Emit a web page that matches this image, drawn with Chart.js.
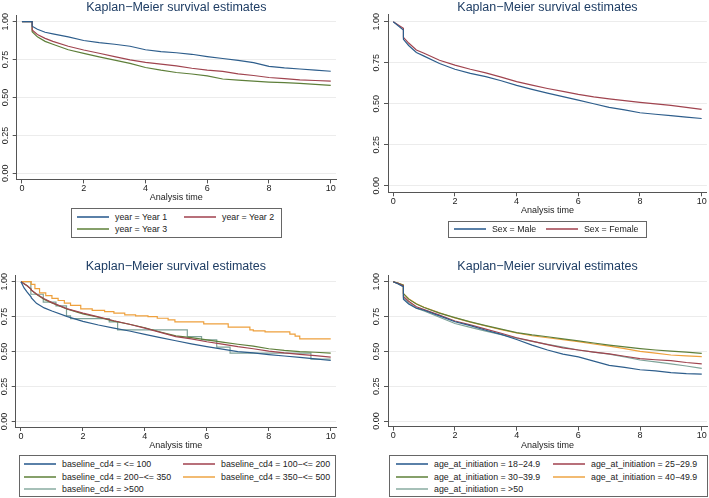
<!DOCTYPE html>
<html>
<head>
<meta charset="utf-8">
<script src="https://cdn.jsdelivr.net/npm/chart.js@4.4.1/dist/chart.umd.min.js"></script>
<style>
  body { margin: 0; background: #fff; }
  #page { position: relative; width: 709px; height: 498px; overflow: hidden; }
  canvas { position: absolute; }
  .legend { position: absolute; border: 1px solid #666; box-sizing: border-box; background: #fff;
            font: 8.8px "Liberation Sans", Arial, sans-serif; color: #222; }
  .item { position: absolute; height: 12px; white-space: nowrap; line-height: 12px; }
  .swatch { position: absolute; left: 0; top: 5px; width: 32px; height: 2px; }
  .item span.tx { position: absolute; left: 38px; top: 0; }
</style>
</head>
<body>
<div id="page">
  <canvas id="c1" width="354" height="249" style="left:0;top:0"></canvas>
  <canvas id="c2" width="354" height="249" style="left:355px;top:0"></canvas>
  <canvas id="c3" width="354" height="249" style="left:0;top:249px"></canvas>
  <canvas id="c4" width="354" height="249" style="left:355px;top:249px"></canvas>
</div>
<script>
const xTicks = [0, 2, 4, 6, 8, 10];
const yTicks = [0, 0.25, 0.5, 0.75, 1];
const lineColors = ['#2e5e8c', '#a0444f', '#5e7f3a', '#eea03c', '#7fa399'];
const swatchColors = ['#5a80a8', '#b8707a', '#86a06a', '#f2bb72', '#a6c0b8'];

// panel 1 - by year
const yearTime = [0, 0.33, 0.33, 0.5, 0.75, 1, 1.5, 2, 2.5, 3, 3.5, 4, 4.5, 5, 5.5, 6, 6.5, 7, 7.5, 8, 8.5, 9, 9.5, 10];
const yearLabels = ['year = Year 1', 'year = Year 2', 'year = Year 3'];
const year1 = [1, 1, 0.97, 0.95, 0.93, 0.92, 0.9, 0.876, 0.862, 0.851, 0.838, 0.815, 0.803, 0.795, 0.785, 0.77, 0.757, 0.745, 0.73, 0.705, 0.695, 0.688, 0.68, 0.673];
const year2 = [1, 1, 0.945, 0.915, 0.89, 0.87, 0.838, 0.813, 0.792, 0.77, 0.748, 0.732, 0.72, 0.708, 0.693, 0.681, 0.672, 0.656, 0.645, 0.632, 0.624, 0.616, 0.612, 0.608];
const year3 = [1, 1, 0.934, 0.9, 0.87, 0.851, 0.815, 0.791, 0.768, 0.747, 0.725, 0.698, 0.68, 0.665, 0.655, 0.642, 0.622, 0.615, 0.608, 0.602, 0.598, 0.593, 0.587, 0.58];

// panel 2 - by sex
const sexTime = [0, 0.33, 0.33, 0.5, 0.75, 1, 1.5, 2, 2.5, 3, 3.5, 4, 4.5, 5, 5.5, 6, 6.5, 7, 7.5, 8, 8.5, 9, 9.5, 10];
const sexLabels = ['Sex = Male', 'Sex = Female'];
const sexMale = [1, 0.949, 0.893, 0.855, 0.812, 0.79, 0.745, 0.71, 0.685, 0.665, 0.64, 0.612, 0.588, 0.565, 0.543, 0.522, 0.5, 0.478, 0.462, 0.445, 0.436, 0.427, 0.418, 0.41];
const sexFemale = [1, 0.96, 0.905, 0.87, 0.828, 0.808, 0.765, 0.735, 0.71, 0.688, 0.662, 0.635, 0.613, 0.593, 0.575, 0.557, 0.542, 0.53, 0.519, 0.508, 0.499, 0.49, 0.478, 0.465];

// panel 3 - baseline cd4
const cd4Time = [0, 0.1, 0.2, 0.33, 0.33, 0.5, 0.75, 1, 1.5, 2, 2.5, 3, 3.5, 4, 4.5, 5, 5.5, 6, 6.5, 7, 7.5, 8, 8.5, 9, 9.5, 10];
const cd4Labels = ['baseline_cd4 = <= 100', 'baseline_cd4 = 100\u2212<= 200', 'baseline_cd4 = 200\u2212<= 350',
                   'baseline_cd4 = 350\u2212<= 500', 'baseline_cd4 = >500'];
const cd4Le100 = [1, 0.955, 0.925, 0.89, 0.885, 0.845, 0.812, 0.79, 0.75, 0.716, 0.69, 0.668, 0.647, 0.623, 0.6, 0.577, 0.555, 0.535, 0.517, 0.5, 0.49, 0.478, 0.468, 0.458, 0.447, 0.436];
const cd4To200 = [1, 0.985, 0.97, 0.945, 0.94, 0.912, 0.877, 0.85, 0.805, 0.775, 0.748, 0.72, 0.695, 0.668, 0.637, 0.607, 0.59, 0.57, 0.553, 0.535, 0.52, 0.503, 0.49, 0.48, 0.47, 0.46];
const cd4To350 = [1, 0.985, 0.97, 0.945, 0.94, 0.91, 0.873, 0.848, 0.803, 0.77, 0.745, 0.718, 0.695, 0.67, 0.64, 0.612, 0.6, 0.583, 0.567, 0.552, 0.538, 0.52, 0.508, 0.5, 0.495, 0.488];
const cd4To500Time = [0, 0.33, 0.45, 0.6, 0.8, 1.0, 1.2, 1.4, 1.6, 1.93, 2.3, 2.7, 3.0, 3.35, 3.7, 4.1, 4.4, 4.75, 4.97, 5.9, 6.69, 7.39, 7.5, 7.88, 8.68, 8.85, 9.0, 10];
const cd4To500 = [1, 0.98, 0.95, 0.92, 0.9, 0.88, 0.865, 0.846, 0.83, 0.805, 0.795, 0.786, 0.775, 0.762, 0.755, 0.75, 0.738, 0.726, 0.712, 0.698, 0.675, 0.655, 0.648, 0.64, 0.625, 0.61, 0.59, 0.59];
const cd4Over500Time = [0, 0.32, 0.72, 1.13, 1.47, 1.6, 2.85, 3.12, 5.37, 5.83, 6.32, 6.75, 9.36, 10];
const cd4Over500 = [1, 0.91, 0.853, 0.826, 0.755, 0.735, 0.712, 0.655, 0.607, 0.584, 0.531, 0.489, 0.446, 0.446];

// panel 4 - age at initiation
const ageTime = [0, 0.15, 0.33, 0.33, 0.5, 0.75, 1, 1.5, 2, 2.5, 3, 3.5, 4, 4.5, 5, 5.5, 6, 6.5, 7, 7.5, 8, 8.5, 9, 9.5, 10];
const ageLabels = ['age_at_initiation = 18\u221224.9', 'age_at_initiation = 25\u221229.9', 'age_at_initiation = 30\u221239.9',
                   'age_at_initiation = 40\u221249.9', 'age_at_initiation = >50'];
const age18 = [1, 0.985, 0.965, 0.875, 0.84, 0.81, 0.795, 0.755, 0.713, 0.685, 0.652, 0.622, 0.585, 0.545, 0.51, 0.48, 0.46, 0.43, 0.4, 0.385, 0.368, 0.36, 0.347, 0.34, 0.337];
const age25 = [1, 0.988, 0.97, 0.895, 0.86, 0.82, 0.8, 0.76, 0.718, 0.69, 0.66, 0.63, 0.598, 0.573, 0.548, 0.525, 0.51, 0.495, 0.482, 0.465, 0.448, 0.44, 0.433, 0.42, 0.41];
const age30 = [1, 0.99, 0.975, 0.915, 0.875, 0.84, 0.815, 0.775, 0.742, 0.712, 0.685, 0.66, 0.635, 0.618, 0.605, 0.59, 0.575, 0.56, 0.545, 0.532, 0.52, 0.51, 0.502, 0.494, 0.486];
const age40 = [1, 0.99, 0.975, 0.915, 0.878, 0.842, 0.817, 0.776, 0.74, 0.71, 0.682, 0.656, 0.632, 0.612, 0.598, 0.584, 0.57, 0.553, 0.538, 0.52, 0.5, 0.487, 0.474, 0.468, 0.462];
const age50 = [1, 0.985, 0.965, 0.885, 0.85, 0.81, 0.79, 0.745, 0.7, 0.672, 0.645, 0.62, 0.595, 0.572, 0.55, 0.53, 0.51, 0.495, 0.48, 0.46, 0.438, 0.425, 0.41, 0.395, 0.378];

const FONT = '"Liberation Sans", Arial, sans-serif';

function pts(times, values) {
    return times.map((t, i) => ({ x: t, y: values[i] }));
}

function ds(label, times, values, color, stepped) {
    return { label, data: pts(times, values), borderColor: color, borderWidth: 1.2,
             pointRadius: 0, fill: false, stepped: !!stepped, tension: 0 };
}

// stata style y labels, rotated
const rotatedYLabels = {
    id: 'rotatedYLabels',
    afterDraw(chart) {
        const s = chart.scales.y, ctx = chart.ctx;
        ctx.save();
        ctx.font = '9px ' + FONT;
        ctx.fillStyle = '#222';
        ctx.textAlign = 'center';
        ctx.textBaseline = 'middle';
        s.ticks.forEach(t => {
            ctx.save();
            ctx.translate(chart.chartArea.left - 11.5, s.getPixelForValue(t.value));
            ctx.rotate(-Math.PI / 2);
            ctx.fillText(t.value.toFixed(2), 0, 0);
            ctx.restore();
        });
        ctx.restore();
    }
};

function makePanel(id, datasets, area) {
    const cv = document.getElementById(id);
    const W = cv.width, H = cv.height;
    return new Chart(cv.getContext('2d'), {
        type: 'line',
        data: { datasets },
        plugins: [rotatedYLabels],
        options: {
            responsive: false,
            animation: false,
            devicePixelRatio: 1,
            layout: { padding: { left: 0, top: 0, right: W - area.right, bottom: H - area.bottom - 25 } },
            plugins: {
                legend: { display: false },
                tooltip: { enabled: false },
                title: {
                    display: true, fullSize: false,
                    text: 'Kaplan\u2212Meier survival estimates',
                    color: '#1e3d64',
                    font: { family: FONT, size: 12.5, weight: 'normal', lineHeight: 1.2 },
                    padding: { top: area.titleTop, bottom: area.top - area.titleTop - 15 }
                }
            },
            scales: {
                x: {
                    type: 'linear', min: -0.17, max: 10.17,
                    afterBuildTicks: s => { s.ticks = xTicks.map(v => ({ value: v })); },
                    afterFit: s => { s.height = 25; },
                    ticks: { font: { family: FONT, size: 9 }, color: '#222', padding: 0, maxRotation: 0, autoSkip: false },
                    grid: { drawOnChartArea: false, tickColor: '#555', tickLength: 4 },
                    border: { color: '#555', width: 1 },
                    title: { display: true, text: 'Analysis time', color: '#222',
                             font: { family: FONT, size: 9 }, padding: { top: 0, bottom: 1 } }
                },
                y: {
                    type: 'linear', min: -0.04, max: 1.044,
                    afterBuildTicks: s => { s.ticks = yTicks.map(v => ({ value: v })); },
                    afterFit: s => { s.width = area.left; },
                    ticks: { display: false },
                    grid: { color: '#ececec', tickColor: '#555', tickLength: 4 },
                    border: { color: '#555', width: 1 }
                }
            }
        }
    });
}

function makeLegend(labels, box) {
    const el = document.createElement('div');
    el.className = 'legend';
    el.style.left = box.left + 'px';
    el.style.top = box.top + 'px';
    el.style.width = box.width + 'px';
    el.style.height = box.height + 'px';
    labels.forEach((lab, i) => {
        const col = i % box.cols.length, row = Math.floor(i / box.cols.length);
        const it = document.createElement('div');
        it.className = 'item';
        it.style.left = Math.round(box.cols[col]) + 'px';
        it.style.top = Math.round(box.rows[row] - 7) + 'px';
        const sw = document.createElement('div');
        sw.className = 'swatch';
        sw.style.backgroundColor = swatchColors[box.colors[i]];
        const tx = document.createElement('span');
        tx.className = 'tx';
        tx.textContent = lab;
        it.appendChild(sw);
        it.appendChild(tx);
        el.appendChild(it);
    });
    document.getElementById('page').appendChild(el);
}

makePanel('c1', [
    ds(yearLabels[0], yearTime, year1, lineColors[0]),
    ds(yearLabels[1], yearTime, year2, lineColors[1]),
    ds(yearLabels[2], yearTime, year3, lineColors[2])
], { left: 16.7, right: 336, top: 15, bottom: 179.4, titleTop: 0 });

makePanel('c2', [
    ds(sexLabels[0], sexTime, sexMale, lineColors[0]),
    ds(sexLabels[1], sexTime, sexFemale, lineColors[1])
], { left: 33, right: 351.9, top: 14.5, bottom: 192.3, titleTop: 0 });

makePanel('c3', [
    ds(cd4Labels[0], cd4Time, cd4Le100, lineColors[0]),
    ds(cd4Labels[1], cd4Time, cd4To200, lineColors[1]),
    ds(cd4Labels[2], cd4Time, cd4To350, lineColors[2]),
    ds(cd4Labels[3], cd4To500Time, cd4To500, lineColors[3], true),
    ds(cd4Labels[4], cd4Over500Time, cd4Over500, lineColors[4], true)
], { left: 15.7, right: 336, top: 26.5, bottom: 178, titleTop: 10.2 });

makePanel('c4', [
    ds(ageLabels[0], ageTime, age18, lineColors[0]),
    ds(ageLabels[1], ageTime, age25, lineColors[1]),
    ds(ageLabels[2], ageTime, age30, lineColors[2]),
    ds(ageLabels[3], ageTime, age40, lineColors[3]),
    ds(ageLabels[4], ageTime, age50, lineColors[4])
], { left: 33, right: 352, top: 26.6, bottom: 177.6, titleTop: 10.2 });

makeLegend(yearLabels, { left: 71, top: 208, width: 211, height: 30, cols: [5, 112], rows: [9, 21.3], colors: [0, 1, 2] });
makeLegend(sexLabels, { left: 448, top: 221, width: 199, height: 17, cols: [4.7, 97], rows: [8], colors: [0, 1] });
makeLegend(cd4Labels, { left: 19, top: 455, width: 317, height: 42, cols: [4, 162.7], rows: [9.3, 21.7, 33.8], colors: [0, 1, 2, 3, 4] });
makeLegend(ageLabels, { left: 389, top: 455, width: 319, height: 42, cols: [6, 163], rows: [9.3, 21.7, 33.8], colors: [0, 1, 2, 3, 4] });
</script>
</body>
</html>
